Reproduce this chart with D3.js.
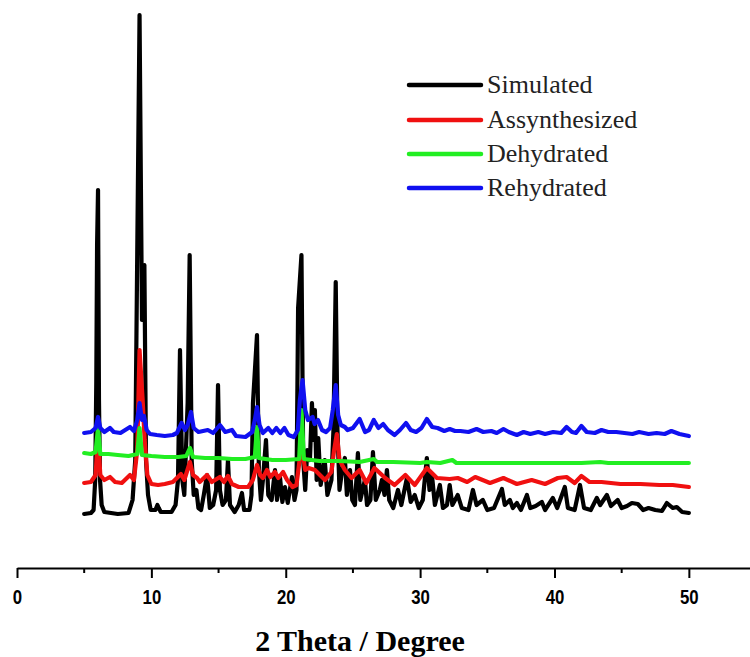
<!DOCTYPE html>
<html>
<head>
<meta charset="utf-8">
<script src="https://cdn.jsdelivr.net/npm/d3@7"></script>
<style>
  html, body { margin: 0; padding: 0; background: #fff; }
  svg { display: block; }
</style>
</head>
<body>
<svg id="chart" width="750" height="657"></svg>
<script>
// Powder XRD patterns: [2theta (deg), intensity (a.u.)]
const seriesNames = ["Simulated", "Assynthesized", "Dehydrated", "Rehydrated"];

const simulated = [
  [5.0,6],[5.5,7],[5.7,10],[5.82,40],[5.9,137],[5.96,275],[6.03,330],[6.1,120],[6.18,40],[6.3,15],[6.5,8],
  [7.5,6],[8.3,7],[8.6,20],[8.8,60],[8.96,283],[9.12,505],[9.3,200],[9.48,255],[9.6,60],[9.75,25],[9.95,10],
  [10.3,10],[10.45,15],[10.55,12],[10.7,8],[11.5,8],[11.8,15],[11.98,40],[12.13,170],[12.3,40],[12.45,25],
  [12.7,117],[12.85,265],[13.0,60],[13.15,25],[13.35,30],[13.5,12],[13.7,10],[13.9,25],[14.14,45],[14.35,12],
  [14.6,15],[14.82,30],[14.96,135],[15.1,30],[15.3,15],[15.55,20],[15.7,60],[15.85,15],[16.2,8],[16.5,15],
  [16.74,27],[16.9,10],[17.3,10],[17.45,25],[17.56,117],[17.86,185],[18.0,50],[18.15,20],[18.3,40],[18.53,80],
  [18.7,25],[18.95,20],[19.2,50],[19.35,20],[19.57,43],[19.75,18],[19.94,33],[20.15,17],[20.46,43],[20.65,20],
  [20.8,30],[20.92,212],[21.17,265],[21.3,60],[21.45,30],[21.6,70],[21.8,60],[21.95,117],[22.06,80],[22.17,110],
  [22.3,40],[22.42,82],[22.6,35],[22.9,60],[23.1,25],[23.4,40],[23.55,90],[23.72,238],[23.85,90],[24.0,30],
  [24.15,45],[24.4,62],[24.55,25],[24.78,50],[24.95,20],[25.15,15],[25.37,67],[25.55,20],[25.89,40],[26.05,15],
  [26.3,20],[26.49,68],[26.7,20],[27.0,30],[27.16,40],[27.35,25],[27.53,50],[27.7,20],[28.0,12],[28.35,30],
  [28.6,15],[29.02,42],[29.3,18],[29.6,25],[29.9,12],[30.2,20],[30.5,62],[30.7,30],[30.88,45],[31.1,15],
  [31.47,35],[31.7,12],[32.0,15],[32.2,35],[32.4,15],[32.8,25],[33.1,12],[33.6,10],[33.93,30],[34.2,15],
  [34.67,20],[35.0,10],[35.5,12],[36.09,31],[36.3,15],[36.68,20],[36.9,12],[37.2,17],[37.5,10],[37.95,25],
  [38.2,12],[38.6,14],[39.06,18],[39.3,10],[39.88,22],[40.2,12],[40.77,33],[41.0,12],[41.5,10],[41.9,35],
  [42.2,12],[42.7,10],[43.15,22],[43.4,15],[43.9,25],[44.2,14],[44.7,20],[45.0,12],[45.4,14],[45.76,17],
  [46.2,16],[46.6,10],[47.0,12],[47.5,10],[48.0,9],[48.36,17],[48.8,12],[49.1,13],[49.5,8],[50.0,7]
];

const assynthesized = [
  [5.0,37],[5.5,38],[5.85,45],[6.03,85],[6.2,45],[6.5,40],[6.92,43],[7.3,38],[7.8,37],[8.41,45],[8.7,40],
  [8.95,70],[9.12,170],[9.35,120],[9.5,80],[9.7,45],[10.0,36],[10.5,35],[11.0,36],[11.6,38],[12.2,46],
  [12.45,40],[12.87,58],[13.1,45],[13.4,42],[13.6,38],[14.14,45],[14.5,38],[15.1,43],[15.4,38],[15.7,44],
  [16.0,36],[16.5,33],[17.2,33],[17.55,40],[17.86,55],[18.1,45],[18.3,42],[18.6,50],[18.85,43],[19.2,48],
  [19.45,42],[19.8,48],[20.1,40],[20.5,33],[20.8,35],[21.17,75],[21.45,50],[21.7,52],[22.17,50],[22.92,40],
  [23.4,48],[23.6,70],[23.8,86],[24.0,60],[24.4,50],[24.9,42],[25.5,50],[26.0,37],[26.6,52],[27.4,42],
  [28.1,35],[28.9,45],[29.6,35],[30.5,52],[31.25,42],[32.2,41],[32.8,42],[33.5,38],[34.1,43],[35.2,37],
  [36.2,42],[37.2,36],[38.3,40],[39.3,36],[40.25,42],[40.9,43],[41.5,37],[42.0,44],[42.6,38],[43.5,38],
  [44.9,36],[46.4,36],[47.8,35],[48.8,35],[50.0,33]
];

const dehydrated = [
  [5.0,67],[5.5,66],[5.85,68],[6.03,92],[6.2,66],[6.8,66],[7.5,65],[8.3,64],[8.95,66],[9.12,92],[9.3,65],
  [10.0,64],[11.0,63],[12.0,63],[12.6,64],[12.87,72],[13.1,63],[14.0,62],[15.0,62],[16.0,61],[17.0,61],
  [17.7,63],[17.86,93],[18.0,62],[19.0,60],[20.0,60],[21.0,61],[21.17,110],[21.35,61],[22.5,59],[24.0,59],
  [25.5,58],[26.55,61],[26.8,58],[28.0,58],[30.0,57],[30.5,58],[31.5,57],[32.4,60],[32.7,57],[34.0,57],
  [36.0,57],[38.0,57],[40.0,57],[42.0,57],[43.4,58],[44.0,57],[46.0,57],[48.0,57],[50.0,57]
];

const rehydrated = [
  [5.0,87],[5.5,88],[5.85,92],[6.03,103],[6.2,92],[6.5,88],[6.92,92],[7.2,88],[7.7,87],[8.41,93],[8.7,89],
  [8.95,100],[9.12,117],[9.3,100],[9.45,104],[9.65,90],[9.9,86],[10.4,85],[11.0,84],[11.6,85],[11.9,87],
  [12.25,97],[12.5,90],[12.7,95],[12.95,108],[13.15,92],[13.5,88],[14.2,90],[14.6,87],[15.1,95],[15.5,88],
  [16.0,90],[16.3,84],[17.0,83],[17.5,88],[17.7,100],[17.86,113],[18.05,95],[18.3,87],[18.7,92],[19.0,87],
  [19.3,92],[19.6,87],[19.9,92],[20.2,85],[20.6,83],[20.9,90],[21.05,120],[21.25,140],[21.45,110],[21.65,100],
  [22.0,103],[22.15,96],[22.4,100],[22.7,90],[23.0,88],[23.3,92],[23.5,110],[23.72,135],[23.9,105],[24.1,95],
  [24.4,93],[24.6,90],[25.0,92],[25.5,101],[25.9,88],[26.2,90],[26.55,100],[26.9,92],[27.25,96],[27.6,90],
  [28.1,85],[28.5,90],[28.95,97],[29.3,90],[29.7,88],[30.1,92],[30.5,101],[30.9,93],[31.3,92],[31.8,89],
  [32.2,91],[32.6,89],[33.0,89],[33.6,88],[34.2,91],[34.7,88],[35.3,89],[35.7,87],[36.2,91],[36.6,88],
  [37.2,85],[37.7,88],[38.2,86],[38.8,88],[39.3,86],[39.9,88],[40.5,87],[40.9,93],[41.3,88],[41.6,87],
  [42.0,94],[42.4,88],[43.0,87],[43.5,90],[44.0,88],[44.6,88],[45.2,87],[45.8,86],[46.3,88],[47.0,86],
  [47.6,87],[48.2,86],[48.7,89],[49.3,86],[50.0,84]
];

const xTicks = [0, 10, 20, 30, 40, 50];
const xMinorTicks = [5, 15, 25, 35, 45];
const xTitle = "2 Theta / Degree";

const colors = ["#000000", "#f01010", "#22ee22", "#1010f0"];
const allSeries = [simulated, assynthesized, dehydrated, rehydrated];

const svg = d3.select("#chart");

const x = d3.scaleLinear().domain([0, 54.55]).range([17, 750]);
const y = d3.scaleLinear().domain([0, 510]).range([520, 10]);

const line = d3.line()
  .x(d => x(d[0]))
  .y(d => y(d[1]))
  .curve(d3.curveLinear);

// traces, simulated drawn first so the measured patterns sit on top
svg.append("g")
  .selectAll("path")
  .data(allSeries)
  .join("path")
  .attr("d", line)
  .attr("fill", "none")
  .attr("stroke", (d, i) => colors[i])
  .attr("stroke-width", 4.2)
  .attr("stroke-linejoin", "round")
  .attr("stroke-linecap", "round");

// bottom axis
const axisY = 568;
const gAxis = svg.append("g")
  .attr("transform", `translate(0,${axisY})`)
  .call(d3.axisBottom(x).tickValues(xTicks).tickSize(10).tickSizeOuter(0).tickPadding(11).tickFormat(d3.format("d")));

gAxis.select(".domain").attr("stroke", "#000").attr("stroke-width", 2);
gAxis.selectAll(".tick line").attr("stroke", "#000").attr("stroke-width", 2);
// condensed bold numerals
gAxis.selectAll(".tick text")
  .attr("fill", "#000")
  .attr("font-family", "'Liberation Sans Narrow', 'Arial Narrow', 'Liberation Sans', sans-serif")
  .attr("font-weight", "bold")
  .attr("font-size", 21)
  .attr("style", "transform: scaleX(0.8); transform-box: fill-box; transform-origin: center;");

gAxis.append("g")
  .selectAll("line")
  .data(xMinorTicks)
  .join("line")
  .attr("x1", d => x(d)).attr("x2", d => x(d))
  .attr("y1", 0).attr("y2", 5)
  .attr("stroke", "#000").attr("stroke-width", 2);

svg.append("text")
  .attr("x", 360)
  .attr("y", 651)
  .attr("text-anchor", "middle")
  .attr("font-family", "'Liberation Serif', 'Times New Roman', serif")
  .attr("font-weight", "bold")
  .attr("font-size", 30)
  .text(xTitle);

// legend
const legend = svg.append("g");
const legendY = [85, 120, 154, 188];
seriesNames.forEach((name, i) => {
  legend.append("line")
    .attr("x1", 409).attr("x2", 481)
    .attr("y1", legendY[i]).attr("y2", legendY[i])
    .attr("stroke", colors[i]).attr("stroke-width", 4.5)
    .attr("stroke-linecap", "round");
  legend.append("text")
    .attr("x", 487)
    .attr("y", legendY[i] + 8)
    .attr("font-family", "'Liberation Serif', 'Times New Roman', serif")
    .attr("font-size", 26)
    .attr("fill", "#222")
    .text(name);
});
</script>
</body>
</html>
